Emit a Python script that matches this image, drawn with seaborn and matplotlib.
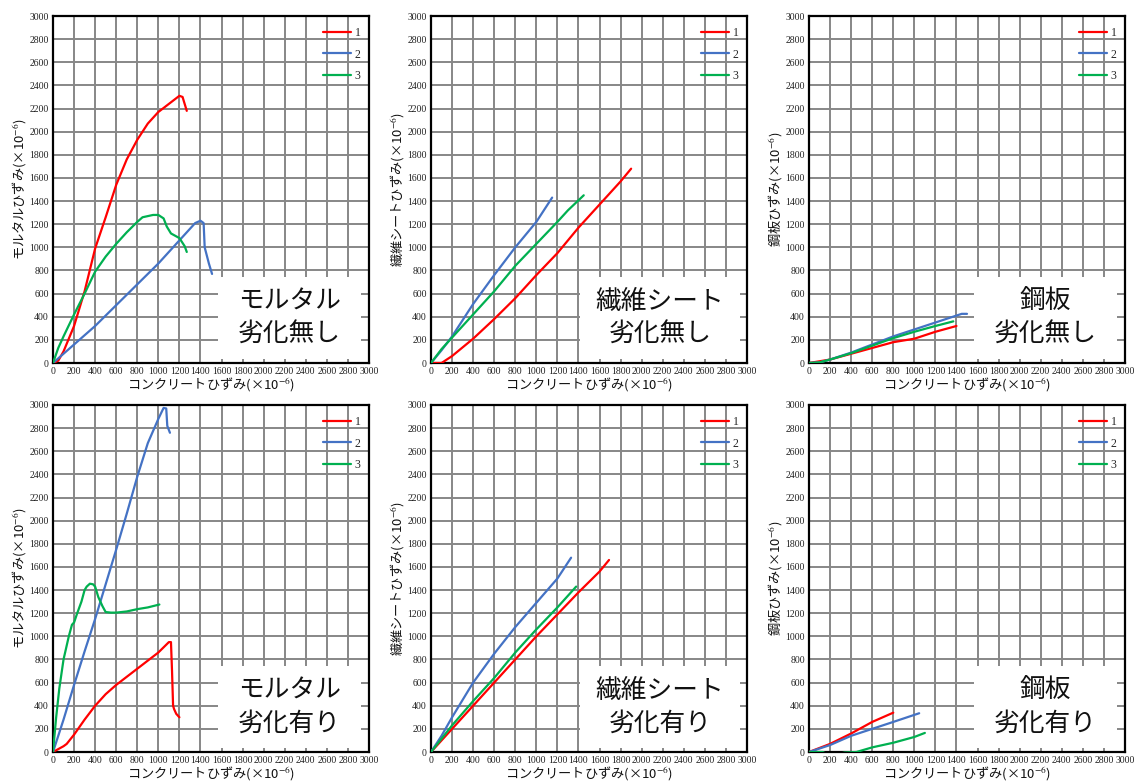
import numpy as np
import pandas as pd
import matplotlib
matplotlib.use("Agg")
import matplotlib.pyplot as plt
from matplotlib.patches import Rectangle
import seaborn as sns

# ---- measured strain curves (x: concrete strain, y: material strain, both x10^-6) ----
# mortar, no deterioration
MORTAR_N_X1 = [0, 50, 100, 200, 300, 400, 500, 600, 700, 800, 900, 1000, 1100, 1200, 1230, 1250, 1270]
MORTAR_N_Y1 = [0, 20, 100, 320, 620, 990, 1260, 1540, 1760, 1930, 2070, 2170, 2240, 2310, 2300, 2240, 2180]
MORTAR_N_X2 = [0, 200, 400, 600, 800, 1000, 1200, 1350, 1400, 1430, 1440, 1480, 1510]
MORTAR_N_Y2 = [0, 160, 320, 500, 680, 860, 1060, 1210, 1230, 1210, 1000, 860, 770]
MORTAR_N_X3 = [0, 50, 100, 200, 300, 400, 500, 600, 700, 800, 850, 950, 1000, 1050, 1080, 1120, 1200, 1250, 1270]
MORTAR_N_Y3 = [0, 130, 230, 420, 600, 790, 920, 1030, 1130, 1220, 1260, 1280, 1280, 1250, 1180, 1120, 1080, 1010, 960]

# mortar, deteriorated
MORTAR_D_X1 = [0, 100, 130, 200, 300, 400, 500, 600, 700, 800, 900, 1000, 1100, 1120, 1130, 1140, 1150, 1170, 1200]
MORTAR_D_Y1 = [0, 50, 70, 150, 280, 400, 500, 580, 650, 720, 790, 860, 950, 950, 700, 400, 370, 330, 300]
MORTAR_D_X2 = [0, 100, 200, 300, 400, 500, 600, 700, 800, 900, 1000, 1050, 1075, 1085, 1110]
MORTAR_D_Y2 = [0, 280, 580, 870, 1150, 1450, 1750, 2060, 2380, 2670, 2880, 2975, 2970, 2820, 2760]
MORTAR_D_X3 = [0, 30, 60, 100, 150, 180, 200, 230, 270, 300, 320, 350, 380, 400, 430, 470, 500, 550, 600, 700, 800, 900, 1010]
MORTAR_D_Y3 = [0, 300, 550, 800, 1000, 1100, 1120, 1200, 1300, 1400, 1430, 1455, 1450, 1430, 1340, 1260, 1210, 1205, 1205, 1215, 1235, 1250, 1275]

# fiber sheet, no deterioration
SHEET_N_X1 = [0, 100, 200, 400, 600, 800, 1000, 1200, 1400, 1600, 1800, 1900]
SHEET_N_Y1 = [0, 0, 60, 210, 380, 560, 760, 950, 1170, 1370, 1570, 1680]
SHEET_N_X2 = [0, 100, 200, 400, 600, 800, 1000, 1150]
SHEET_N_Y2 = [0, 110, 230, 510, 760, 1000, 1220, 1430]
SHEET_N_X3 = [0, 100, 200, 400, 600, 800, 1000, 1200, 1300, 1450]
SHEET_N_Y3 = [0, 120, 220, 420, 620, 840, 1030, 1220, 1320, 1450]

# fiber sheet, deteriorated
SHEET_D_X1 = [0, 200, 400, 600, 800, 1000, 1200, 1400, 1600, 1690]
SHEET_D_Y1 = [0, 200, 400, 600, 800, 1000, 1190, 1380, 1560, 1660]
SHEET_D_X2 = [0, 100, 200, 400, 600, 800, 1000, 1200, 1330]
SHEET_D_Y2 = [0, 140, 300, 600, 850, 1080, 1290, 1500, 1680]
SHEET_D_X3 = [0, 200, 400, 600, 800, 1000, 1200, 1378]
SHEET_D_Y3 = [0, 230, 440, 640, 860, 1060, 1250, 1430]

# steel plate, no deterioration
STEEL_N_X1 = [0, 200, 400, 600, 800, 1000, 1200, 1400]
STEEL_N_Y1 = [0, 30, 80, 130, 180, 210, 270, 320]
STEEL_N_X2 = [0, 100, 200, 400, 600, 800, 1000, 1200, 1400, 1450, 1500]
STEEL_N_Y2 = [0, 5, 30, 90, 160, 230, 290, 350, 410, 425, 425]
STEEL_N_X3 = [0, 100, 200, 400, 600, 800, 1000, 1200, 1370]
STEEL_N_Y3 = [0, 5, 30, 85, 150, 215, 270, 320, 360]

# steel plate, deteriorated
STEEL_D_X1 = [0, 200, 400, 600, 800]
STEEL_D_Y1 = [0, 70, 160, 260, 340]
STEEL_D_X2 = [0, 200, 400, 600, 800, 1046]
STEEL_D_Y2 = [0, 60, 140, 200, 260, 335]
STEEL_D_X3 = [0, 130, 200, 340, 450, 600, 800, 1000, 1100]
STEEL_D_Y3 = [0, 0, -30, -5, 0, 40, 80, 130, 165]

SERIES = ["1", "2", "3"]
COLORS = ["#FF0000", "#4472C4", "#00B050"]
TICKS = list(range(0, 3001, 200))

Y_LABELS = ["モルタルひずみ", "繊維シートひずみ", "鋼板ひずみ"]
X_LABEL = "コンクリートひずみ"
MATERIALS = ["モルタル", "繊維シート", "鋼板"]
CONDITIONS = ["劣化無し", "劣化有り"]

PANELS = [
    [(MORTAR_N_X1, MORTAR_N_Y1), (MORTAR_N_X2, MORTAR_N_Y2), (MORTAR_N_X3, MORTAR_N_Y3)],
    [(SHEET_N_X1, SHEET_N_Y1), (SHEET_N_X2, SHEET_N_Y2), (SHEET_N_X3, SHEET_N_Y3)],
    [(STEEL_N_X1, STEEL_N_Y1), (STEEL_N_X2, STEEL_N_Y2), (STEEL_N_X3, STEEL_N_Y3)],
    [(MORTAR_D_X1, MORTAR_D_Y1), (MORTAR_D_X2, MORTAR_D_Y2), (MORTAR_D_X3, MORTAR_D_Y3)],
    [(SHEET_D_X1, SHEET_D_Y1), (SHEET_D_X2, SHEET_D_Y2), (SHEET_D_X3, SHEET_D_Y3)],
    [(STEEL_D_X1, STEEL_D_Y1), (STEEL_D_X2, STEEL_D_Y2), (STEEL_D_X3, STEEL_D_Y3)],
]

sns.set_theme(style="white")
JP = ["Noto Sans CJK JP", "DejaVu Sans"]
SERIF = ["Liberation Serif", "DejaVu Serif"]
plt.rcParams["font.family"] = JP
plt.rcParams["mathtext.fontset"] = "stix"

W, H = 1135, 781
fig = plt.figure(figsize=(W / 100, H / 100), dpi=100)
fig.patch.set_facecolor("white")

col_left = [53, 431, 809]
row_bottom = [363, 752]
ax_w, ax_h = 316, 347
box_x = [(1570, 2925), (1410, 2935), (1570, 2925)]

for idx, curves in enumerate(PANELS):
    r, c = divmod(idx, 3)
    ax = fig.add_axes([col_left[c] / W, (H - row_bottom[r]) / H, ax_w / W, ax_h / H])

    frames = []
    for name, (xs, ys) in zip(SERIES, curves):
        frames.append(pd.DataFrame({"x": xs, "y": ys, "series": name}))
    df = pd.concat(frames, ignore_index=True)
    sns.lineplot(data=df, x="x", y="y", hue="series", palette=COLORS, sort=False,
                 estimator=None, units="series", linewidth=1.6, ax=ax, zorder=3)

    ax.set_xlim(0, 3000)
    ax.set_ylim(0, 3000)
    ax.set_xticks(TICKS)
    ax.set_yticks(TICKS)
    ax.grid(True, color="#878787", linewidth=1.4)
    ax.set_axisbelow(True)
    ax.tick_params(length=0, pad=3, labelsize=7, colors="#222222")
    for lab in ax.get_xticklabels() + ax.get_yticklabels():
        lab.set_fontfamily(SERIF)
    for sp in ax.spines.values():
        sp.set_color("black")
        sp.set_linewidth(1.6)

    ax.set_xlabel(X_LABEL + "(×10$^{-6}$)", fontsize=9.5, labelpad=-1, color="#111111")
    ax.set_ylabel(Y_LABELS[c] + "(×10$^{-6}$)", fontsize=9.5, labelpad=1, color="#111111")

    # white panel with the material / condition caption
    x0, x1 = box_x[c]
    ax.add_patch(Rectangle((x0, 35), x1 - x0, 705, facecolor="white", edgecolor="none", zorder=2))
    ax.text((x0 + x1) / 2, 387, MATERIALS[c] + "\n" + CONDITIONS[r], ha="center", va="center",
            fontsize=18.5, linespacing=1.35, color="#111111", zorder=4)

    handles, labels = ax.get_legend_handles_labels()
    ax.legend(handles, labels, loc="upper left", bbox_to_anchor=(0.854, 0.968), frameon=False,
              handlelength=2.4, handletextpad=0.3, labelspacing=0.8, borderpad=0, borderaxespad=0,
              prop={"family": SERIF, "size": 8.5})

fig.savefig("out.png", dpi=100, facecolor="white")
